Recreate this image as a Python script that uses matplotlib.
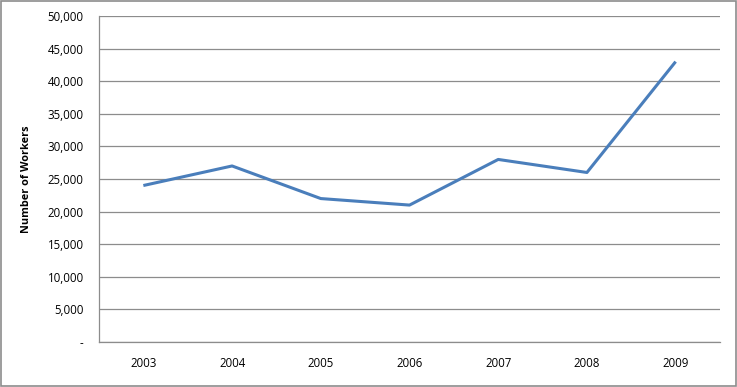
import matplotlib.pyplot as plt
from matplotlib.ticker import FuncFormatter
from matplotlib.patches import Rectangle

years = ["2003", "2004", "2005", "2006", "2007", "2008", "2009"]
workers = [24000, 27000, 22000, 21000, 28000, 26000, 43000]

plt.rcParams['font.family'] = ['Open Sans', 'DejaVu Sans']

fig = plt.figure(figsize=(7.37, 3.87), dpi=100)
ax = fig.add_axes([99/737, 1-342/387, 621/737, 326/387])

ax.plot(range(len(years)), workers, color="#4a7ebb", linewidth=2.2, solid_capstyle="butt")

ax.set_xlim(-0.5, len(years) - 0.5)
ax.set_ylim(0, 50000)
ax.set_yticks(range(0, 50001, 5000))
ax.set_xticks(range(len(years)))
ax.set_xticklabels(years)
ax.yaxis.set_major_formatter(FuncFormatter(lambda v, p: "-" if v == 0 else f"{int(v):,}"))
ax.grid(axis="y", color="#8c8c8c", linewidth=0.9)
ax.set_axisbelow(True)
for s in ["top", "right"]:
    ax.spines[s].set_visible(False)
for s in ["left", "bottom"]:
    ax.spines[s].set_color("#8c8c8c")
    ax.spines[s].set_linewidth(0.9)
ax.tick_params(axis="y", length=0, pad=11, labelsize=8.3)
ax.tick_params(axis="x", length=0, pad=11, labelsize=8.3)
ax.set_ylabel("Number of Workers", fontsize=7.8, fontweight="bold", labelpad=11)

fig.patches.append(Rectangle((1/737, 1/387), 735/737, 385/387, transform=fig.transFigure,
                             fill=False, edgecolor="#8c8c8c", linewidth=1.2))

fig.savefig("out.png", dpi=100)
